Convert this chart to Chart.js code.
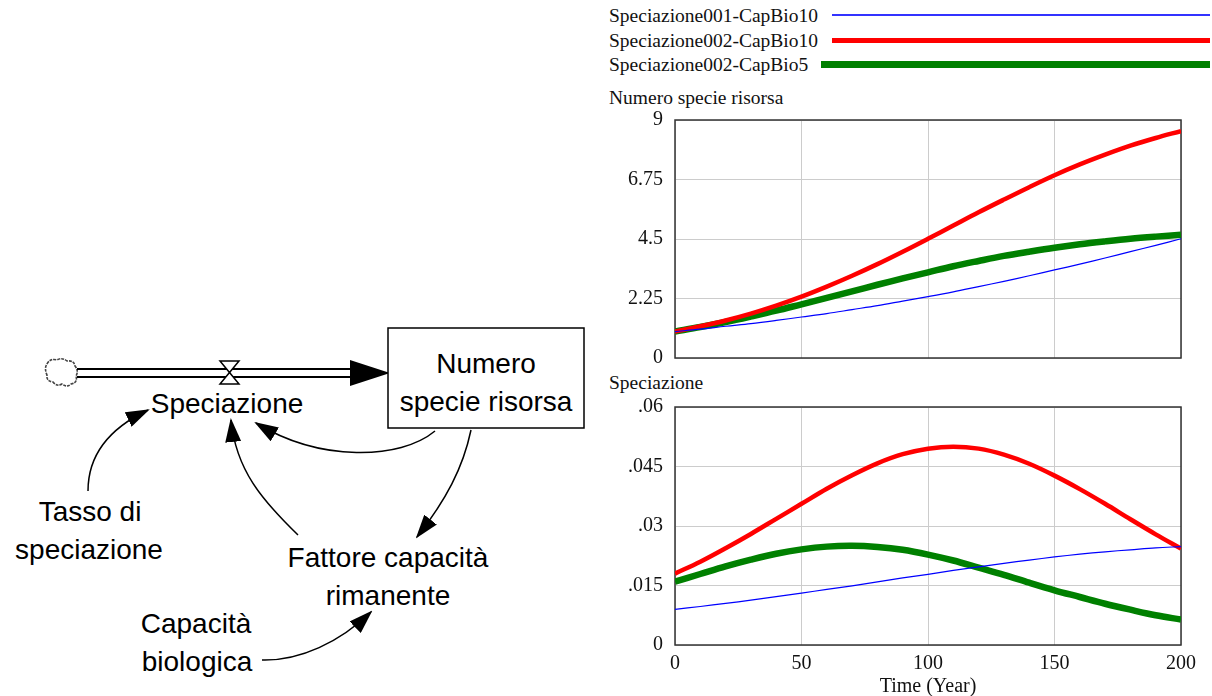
<!DOCTYPE html>
<html>
<head>
<meta charset="utf-8">
<script src="https://cdn.jsdelivr.net/npm/chart.js@4/dist/chart.umd.min.js"></script>
<style>
    body { margin: 0; background: #fff; }
    #page { position: relative; width: 1212px; height: 696px; overflow: hidden; }
    .serif { position: absolute; font-family: "Liberation Serif", "Times New Roman", serif; font-size: 19.5px; color: #111; white-space: nowrap; line-height: 22px; }
    .key { position: absolute; left: 832px; width: 378px; }
    .box { position: absolute; }
</style>
</head>
<body>
<div id="page">

    <svg id="diagram" width="600" height="696" style="position:absolute;left:0;top:0">
        <defs>
            <marker id="head" markerUnits="userSpaceOnUse" markerWidth="24" markerHeight="16" refX="22" refY="8" orient="auto">
                <path d="M0,0 L24,8 L0,16 z" fill="#000"/>
            </marker>
        </defs>
        <g font-family="'Liberation Sans', Arial, sans-serif" font-size="28" fill="#000" text-anchor="middle">
            <!-- flow pipe -->
            <path d="M47,364 q3,-6 10,-4 q5,-3 10,1 q7,-1 8,5 q4,5 1,10 q2,7 -5,8 q-4,4 -9,0 q-5,3 -9,-2 q-7,-1 -6,-7 q-3,-7 0,-11 z" fill="#fff" stroke="#444" stroke-width="1.6" stroke-dasharray="3,1"/>
            <line x1="77" y1="369" x2="352" y2="369" stroke="#000" stroke-width="2"/>
            <line x1="77" y1="377" x2="352" y2="377" stroke="#000" stroke-width="2"/>
            <polygon points="350,360 390,373 350,386" fill="#000"/>
            <polygon points="220,361 239,361 229.5,372.5" fill="#fff" stroke="#000" stroke-width="1.5"/>
            <polygon points="229.5,372.5 220,384 239,384" fill="#fff" stroke="#000" stroke-width="1.5"/>

            <!-- stock -->
            <rect x="388" y="328" width="196" height="100" fill="#fff" stroke="#000" stroke-width="1.5"/>
            <text x="486" y="373">Numero</text>
            <text x="486" y="411">specie risorsa</text>

            <text x="227" y="413">Speciazione</text>
            <text x="90" y="521">Tasso di</text>
            <text x="89" y="559">speciazione</text>
            <text x="388" y="567">Fattore capacità</text>
            <text x="388" y="605">rimanente</text>
            <text x="196" y="633">Capacità</text>
            <text x="197" y="671">biologica</text>

            <!-- links -->
            <g fill="none" stroke="#000" stroke-width="1.5" marker-end="url(#head)">
                <path d="M88,491 C88,455 110,428 148,410"/>
                <path d="M435,431 C400,460 320,462 256,423"/>
                <path d="M298,535 C262,500 236,470 231,420"/>
                <path d="M471,430 C463,468 446,500 417,537"/>
                <path d="M262,660 C300,661 340,642 371,612"/>
            </g>
        </g>
    </svg>

    <div class="serif" style="left:609px;top:5px">Speciazione001-CapBio10</div>
    <div class="serif" style="left:609px;top:30px">Speciazione002-CapBio10</div>
    <div class="serif" style="left:609px;top:54px">Speciazione002-CapBio5</div>
    <div class="key" style="top:14px;height:2px;background:#3333ff"></div>
    <div class="key" style="top:38px;height:5px;background:#ff0000"></div>
    <div class="key" style="left:821px;width:389px;top:61px;height:7px;background:#008000"></div>

    <div class="serif" style="left:609px;top:87px">Numero specie risorsa</div>
    <div class="serif" style="left:609px;top:372px">Speciazione</div>

    <div class="box" style="left:600px;top:108px;width:612px;height:262px">
        <canvas id="stock-chart" width="612" height="262"></canvas>
    </div>
    <div class="box" style="left:600px;top:395px;width:612px;height:304px">
        <canvas id="flow-chart" width="612" height="304"></canvas>
    </div>
</div>

<script>
const years = [0, 10, 20, 30, 40, 50, 60, 70, 80, 90, 100, 110, 120, 130, 140, 150, 160, 170, 180, 190, 200];

// Numero specie risorsa
const stock001Cap10 = [1.00, 1.09, 1.20, 1.30, 1.42, 1.55, 1.68, 1.83, 1.98, 2.15, 2.32, 2.50, 2.70, 2.90, 3.11, 3.33, 3.55, 3.78, 4.02, 4.26, 4.51];
const stock002Cap10 = [1.00, 1.20, 1.42, 1.68, 1.98, 2.32, 2.70, 3.11, 3.55, 4.02, 4.51, 5.01, 5.51, 5.99, 6.46, 6.91, 7.32, 7.69, 8.03, 8.32, 8.58];
const stock002Cap5 = [1.00, 1.17, 1.36, 1.57, 1.79, 2.03, 2.27, 2.52, 2.77, 3.01, 3.24, 3.47, 3.67, 3.86, 4.02, 4.17, 4.30, 4.41, 4.51, 4.59, 4.66];

// Speciazione
const flow001Cap10 = [0.0090, 0.0097, 0.0105, 0.0113, 0.0122, 0.0131, 0.0140, 0.0149, 0.0159, 0.0169, 0.0178, 0.0188, 0.0197, 0.0206, 0.0214, 0.0222, 0.0229, 0.0235, 0.0240, 0.0245, 0.0248];
const flow002Cap10 = [0.0180, 0.0210, 0.0244, 0.0280, 0.0318, 0.0356, 0.0394, 0.0428, 0.0458, 0.0481, 0.0495, 0.0500, 0.0495, 0.0480, 0.0457, 0.0427, 0.0393, 0.0356, 0.0317, 0.0279, 0.0243];
const flow002Cap5 = [0.0160, 0.0179, 0.0198, 0.0215, 0.0230, 0.0241, 0.0248, 0.0250, 0.0247, 0.0240, 0.0228, 0.0213, 0.0195, 0.0177, 0.0157, 0.0138, 0.0121, 0.0104, 0.0089, 0.0075, 0.0064];

const seriesNames = ["Speciazione001-CapBio10", "Speciazione002-CapBio10", "Speciazione002-CapBio5"];
const seriesColors = ["#0000ff", "#ff0000", "#008000"];
const seriesWidths = [1.2, 4.5, 6.5];

const xTicks = [0, 50, 100, 150, 200];
const stockTicks = [0, 2.25, 4.5, 6.75, 9];
const stockTickLabels = ["0", "2.25", "4.5", "6.75", "9"];
const flowTicks = [0, 0.015, 0.03, 0.045, 0.06];
const flowTickLabels = ["0", ".015", ".03", ".045", ".06"];

Chart.defaults.font.family = '"Liberation Serif", "Times New Roman", serif';
Chart.defaults.font.size = 20;
Chart.defaults.color = "#111";

// dark frame round the plot area, like the simulator output
const framePlugin = {
    id: "frame",
    beforeDatasetsDraw(chart) {
        const a = chart.chartArea;
        const ctx = chart.ctx;
        ctx.save();
        ctx.strokeStyle = "#333";
        ctx.lineWidth = 1.5;
        ctx.strokeRect(a.left, a.top, a.right - a.left, a.bottom - a.top);
        ctx.restore();
    }
};

function makeDatasets(lists) {
    return lists.map((vals, i) => ({
        label: seriesNames[i],
        data: years.map((t, k) => ({ x: t, y: vals[k] })),
        borderColor: seriesColors[i],
        borderWidth: seriesWidths[i],
        pointRadius: 0,
        tension: 0.35,
        fill: false
    }));
}

function drawChart(id, lists, ticks, tickLabels, showTime) {

    const ctx = document.getElementById(id).getContext("2d");

    return new Chart(ctx, {
        type: "line",
        data: { datasets: makeDatasets(lists) },
        options: {
            responsive: false,
            animation: false,
            events: [],
            layout: { padding: { top: 12, right: 31, bottom: showTime ? 0 : 12, left: 0 } },
            plugins: { legend: { display: false }, tooltip: { enabled: false } },
            scales: {
                x: {
                    type: "linear",
                    min: 0,
                    max: 200,
                    afterBuildTicks: s => { s.ticks = xTicks.map(v => ({ value: v })); },
                    afterFit: s => {
                        s.height = showTime ? 54 : 0;
                        s.paddingLeft = 0;
                        s.paddingRight = 0;
                    },
                    grid: { color: "#cccccc", drawTicks: false },
                    border: { display: false },
                    ticks: { display: showTime, padding: 7, maxRotation: 0 },
                    title: { display: showTime, text: "Time (Year)", padding: 0 }
                },
                y: {
                    min: ticks[0],
                    max: ticks[ticks.length - 1],
                    afterBuildTicks: s => { s.ticks = ticks.map(v => ({ value: v })); },
                    afterFit: s => {
                        s.width = 75;
                        s.paddingTop = 0;
                        s.paddingBottom = 0;
                    },
                    grid: { color: "#cccccc", drawTicks: false },
                    border: { display: false },
                    ticks: { padding: 12, callback: (v, i) => tickLabels[i] }
                }
            }
        },
        plugins: [framePlugin]
    });
}

drawChart("stock-chart", [stock001Cap10, stock002Cap10, stock002Cap5], stockTicks, stockTickLabels, false);
drawChart("flow-chart", [flow001Cap10, flow002Cap10, flow002Cap5], flowTicks, flowTickLabels, true);
</script>
</body>
</html>
